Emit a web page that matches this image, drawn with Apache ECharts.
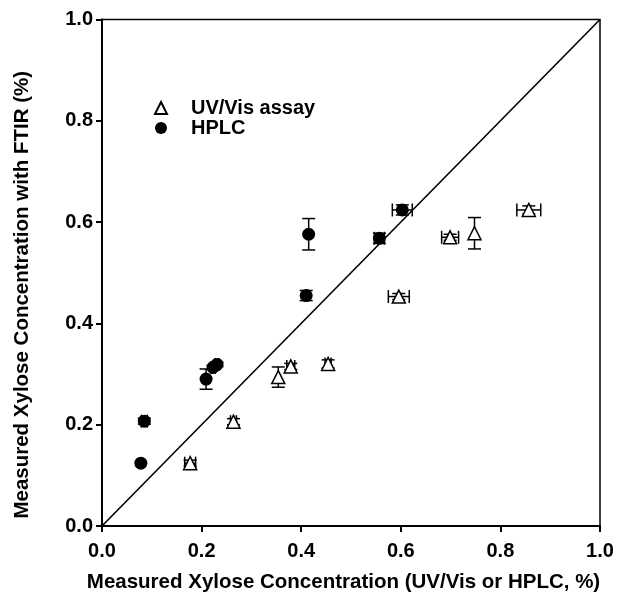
<!DOCTYPE html>
<html>
<head>
<meta charset="utf-8">
<script src="https://cdn.jsdelivr.net/npm/echarts@6/dist/echarts.min.js"></script>
<style>
html,body{margin:0;padding:0;background:#fff;}
#chart{width:628px;height:594px;}
</style>
</head>
<body>
<div id="chart"></div>
<script>
// HPLC measurements (filled circles)
const hplcX    = [0.078, 0.085, 0.209, 0.223, 0.231, 0.410, 0.415, 0.557, 0.603];
const hplcY    = [0.124, 0.207, 0.290, 0.313, 0.319, 0.455, 0.576, 0.568, 0.624];
const hplcXErr = [0.000, 0.006, 0.000, 0.004, 0.004, 0.000, 0.000, 0.010, 0.020];
const hplcYErr = [0.000, 0.006, 0.020, 0.004, 0.004, 0.010, 0.031, 0.010, 0.010];
// UV/Vis assay measurements (open triangles)
const uvX    = [0.177, 0.264, 0.354, 0.379, 0.454, 0.596, 0.699, 0.748, 0.857];
const uvY    = [0.124, 0.206, 0.294, 0.315, 0.320, 0.453, 0.570, 0.578, 0.624];
const uvXErr = [0.011, 0.006, 0.000, 0.008, 0.006, 0.021, 0.017, 0.000, 0.024];
const uvYErr = [0.006, 0.006, 0.020, 0.006, 0.008, 0.006, 0.006, 0.031, 0.008];
// identity line
const lineX = [0, 1];
const lineY = [0, 1];
const ticks = [0.0, 0.2, 0.4, 0.6, 0.8, 1.0];

const FONT = '"Liberation Sans", Arial, sans-serif';

function pairs(xs, ys){ return xs.map((x,i)=>[x, ys[i]]); }
function errData(xs, ys, xe, ye){ return xs.map((x,i)=>[x, ys[i], xe[i], ye[i]]); }

function renderErr(params, api){
  const x = api.value(0), y = api.value(1), ex = api.value(2), ey = api.value(3);
  const cap = 6.5;
  const children = [];
  const st = {stroke:'#000', lineWidth:1.5};
  if (ey > 0){
    const p1 = api.coord([x, y - ey]), p2 = api.coord([x, y + ey]);
    children.push({type:'line', shape:{x1:p1[0], y1:p1[1], x2:p2[0], y2:p2[1]}, style:st});
    children.push({type:'line', shape:{x1:p1[0]-cap, y1:p1[1], x2:p1[0]+cap, y2:p1[1]}, style:st});
    children.push({type:'line', shape:{x1:p2[0]-cap, y1:p2[1], x2:p2[0]+cap, y2:p2[1]}, style:st});
  }
  if (ex > 0){
    const p1 = api.coord([x - ex, y]), p2 = api.coord([x + ex, y]);
    children.push({type:'line', shape:{x1:p1[0], y1:p1[1], x2:p2[0], y2:p2[1]}, style:st});
    children.push({type:'line', shape:{x1:p1[0], y1:p1[1]-cap, x2:p1[0], y2:p1[1]+cap}, style:st});
    children.push({type:'line', shape:{x1:p2[0], y1:p2[1]-cap, x2:p2[0], y2:p2[1]+cap}, style:st});
  }
  return {type:'group', children};
}

const axisCommon = {
  min: 0, max: 1, interval: 0.2,
  axisLine: {show:true, onZero:false, lineStyle:{color:'#000', width:2}},
  axisTick: {show:true, inside:false, length:6, lineStyle:{color:'#000', width:2}},
  splitLine: {show:false},
  axisLabel: {color:'#000', fontFamily:FONT, fontWeight:'bold', fontSize:20,
              formatter: v => Number(v).toFixed(1)},
  nameLocation: 'middle',
  nameTextStyle: {color:'#000', fontFamily:FONT, fontWeight:'bold', fontSize:20.5}
};

const chart = echarts.init(document.getElementById('chart'), null, {renderer:'canvas'});
chart.setOption({
  animation: false,
  backgroundColor: '#fff',
  grid: {left:102, right:28, top:19.5, bottom:68, show:true, borderColor:'#000', borderWidth:1.5,
         containLabel:false, outerBoundsMode:'none'},
  xAxis: Object.assign({}, axisCommon, {
    type:'value', name:'Measured Xylose Concentration (UV/Vis or HPLC, %)', nameGap:46,
    nameTextStyle: Object.assign({}, axisCommon.nameTextStyle, {padding:[0,15,0,0]}),
    axisLabel: Object.assign({}, axisCommon.axisLabel, {margin:15})
  }),
  yAxis: Object.assign({}, axisCommon, {
    type:'value', name:'Measured Xylose Concentration with FTIR (%)', nameGap:69,
    nameTextStyle: Object.assign({}, axisCommon.nameTextStyle, {padding:[0,44,0,0]}),
    axisLabel: Object.assign({}, axisCommon.axisLabel, {margin:9})
  }),
  legend: {
    orient:'vertical', left:149, top:93, itemWidth:12, itemHeight:12, itemGap:0,
    data:['UV/Vis assay','HPLC'],
    textStyle:{color:'#000', fontFamily:FONT, fontWeight:'bold', fontSize:20, lineHeight:16, padding:[0,0,0,19]},
    selectedMode:false
  },
  series: [
    {type:'line', data: pairs(lineX, lineY), symbol:'none', silent:true,
     lineStyle:{color:'#000', width:1.6}, z:1},
    {type:'custom', name:'uvErr', renderItem: renderErr, data: errData(uvX, uvY, uvXErr, uvYErr), z:2, silent:true},
    {type:'custom', name:'hplcErr', renderItem: renderErr, data: errData(hplcX, hplcY, hplcXErr, hplcYErr), z:2, silent:true},
    {type:'scatter', name:'UV/Vis assay', data: pairs(uvX, uvY), symbol:'triangle', symbolSize:13,
     itemStyle:{color:'#fff', borderColor:'#000', borderWidth:1.5, opacity:1}, z:3},
    {type:'scatter', name:'HPLC', data: pairs(hplcX, hplcY), symbol:'circle', symbolSize:13,
     itemStyle:{color:'#000', borderColor:'#000', borderWidth:0, opacity:1}, z:3}
  ]
});
</script>
</body>
</html>
